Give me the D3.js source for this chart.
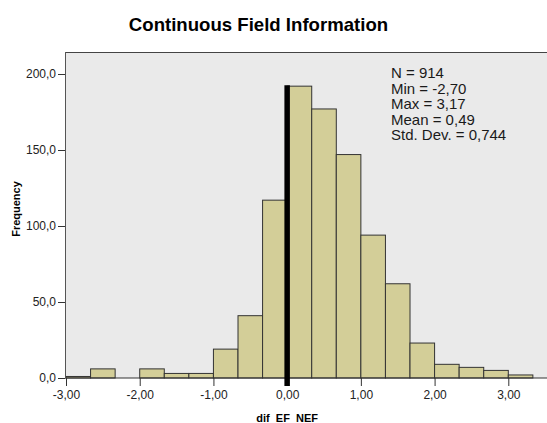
<!DOCTYPE html>
<meta charset="utf-8">
<style type="text/css">
body { margin: 0; background: #fff; font-family: 'Liberation Sans', Arial, sans-serif; }
.tick text { font-size: 12px; fill: #222; font-family: 'Liberation Sans', Arial, sans-serif; }
.tick line { stroke: #333; }
.bars { fill: #d3ce98; stroke: #333; stroke-width: 1; }
.stats { font-size: 15px; fill: #1a1a1a; }
.g-hed { font-size: 18.6px; font-weight: bold; }
.ax-title { font-size: 11px; font-weight: bold; }
</style>
<body>
<div class="g-chart"></div>
<script src="https://cdnjs.cloudflare.com/ajax/libs/d3/7.8.5/d3.min.js"></script>
<script>
// bin edges (width 1/3) and counts
var binStart = -3, binWidth = 1 / 3;
var counts = [1, 6, 0, 6, 3, 3, 19, 41, 117, 192, 177, 147, 94, 62, 23, 9, 7, 5, 2];
var xTicks = [-3, -2, -1, 0, 1, 2, 3];
var yTicks = [0, 50, 100, 150, 200];
var statLines = ["N = 914", "Min = -2,70", "Max = 3,17", "Mean = 0,49", "Std. Dev. = 0,744"];
var refValue = 0;

var width = 547, height = 423;
var plot = {left: 65, top: 52, right: 547, bottom: 378};

var svg = d3.select(".g-chart").append("svg")
  .attr("width", width)
  .attr("height", height);

var x = d3.scaleLinear().domain([-3, 3]).range([66, 508.3]);
var y = d3.scaleLinear().domain([0, 200]).range([378, 74]);

//plot background
svg.append("rect")
  .attr("x", plot.left).attr("y", plot.top)
  .attr("width", plot.right - plot.left).attr("height", plot.bottom - plot.top)
  .attr("fill", "#eaeaea");

svg.append("line")
  .attr("x1", plot.left).attr("x2", plot.right)
  .attr("y1", plot.top + 0.5).attr("y2", plot.top + 0.5)
  .attr("stroke", "#444");

var bins = counts.map(function(c, i) {
  return {x0: binStart + i * binWidth, x1: binStart + (i + 1) * binWidth, n: c};
});

svg.append("g").selectAll("rect")
  .data(bins.filter(function(d) { return d.n > 0; }))
  .enter().append("rect")
  .attr("class", "bars")
  .attr("x", function(d) { return x(d.x0); })
  .attr("width", function(d) { return x(d.x1) - x(d.x0); })
  .attr("y", function(d) { return y(d.n); })
  .attr("height", function(d) { return y(0) - y(d.n); });

//axes
var xAxis = d3.axisBottom(x).tickValues(xTicks).tickSize(8).tickPadding(4)
  .tickFormat(function(d) { return d3.format(".2f")(d).replace(".", ",").replace("−", "-"); });
var gx = svg.append("g").attr("transform", "translate(0," + y(0) + ")").call(xAxis);
gx.select(".domain").remove();

var yAxis = d3.axisLeft(y).tickValues(yTicks).tickSize(7).tickPadding(2)
  .tickFormat(function(d) { return d3.format(".1f")(d).replace(".", ","); });
var gy = svg.append("g").attr("transform", "translate(" + plot.left + ",0)").call(yAxis);
gy.select(".domain").remove();

svg.append("line")
  .attr("x1", plot.left).attr("x2", plot.right)
  .attr("y1", y(0)).attr("y2", y(0))
  .attr("stroke", "#333");
svg.append("line")
  .attr("x1", plot.left + 0.5).attr("x2", plot.left + 0.5)
  .attr("y1", plot.top).attr("y2", y(0))
  .attr("stroke", "#555");

//reference line
svg.append("line")
  .attr("x1", x(refValue)).attr("x2", x(refValue))
  .attr("y1", y(d3.max(counts)) - 1).attr("y2", y(0) + 8)
  .attr("stroke", "#000").attr("stroke-width", 5.5);

//stats
svg.append("text").attr("class", "stats")
  .selectAll("tspan").data(statLines).enter().append("tspan")
  .attr("x", 391).attr("y", function(d, i) { return 78 + i * 15.5; })
  .text(function(d) { return d; });

svg.append("text").attr("class", "g-hed")
  .attr("x", 258.5).attr("y", 31).attr("text-anchor", "middle")
  .text("Continuous Field Information");

svg.append("text").attr("class", "ax-title")
  .attr("x", x(0)).attr("y", 422).attr("text-anchor", "middle")
  .text("dif_EF_NEF");

svg.append("text").attr("class", "ax-title")
  .attr("transform", "translate(20,209) rotate(-90)").attr("text-anchor", "middle")
  .text("Frequency");
</script>
</body>
